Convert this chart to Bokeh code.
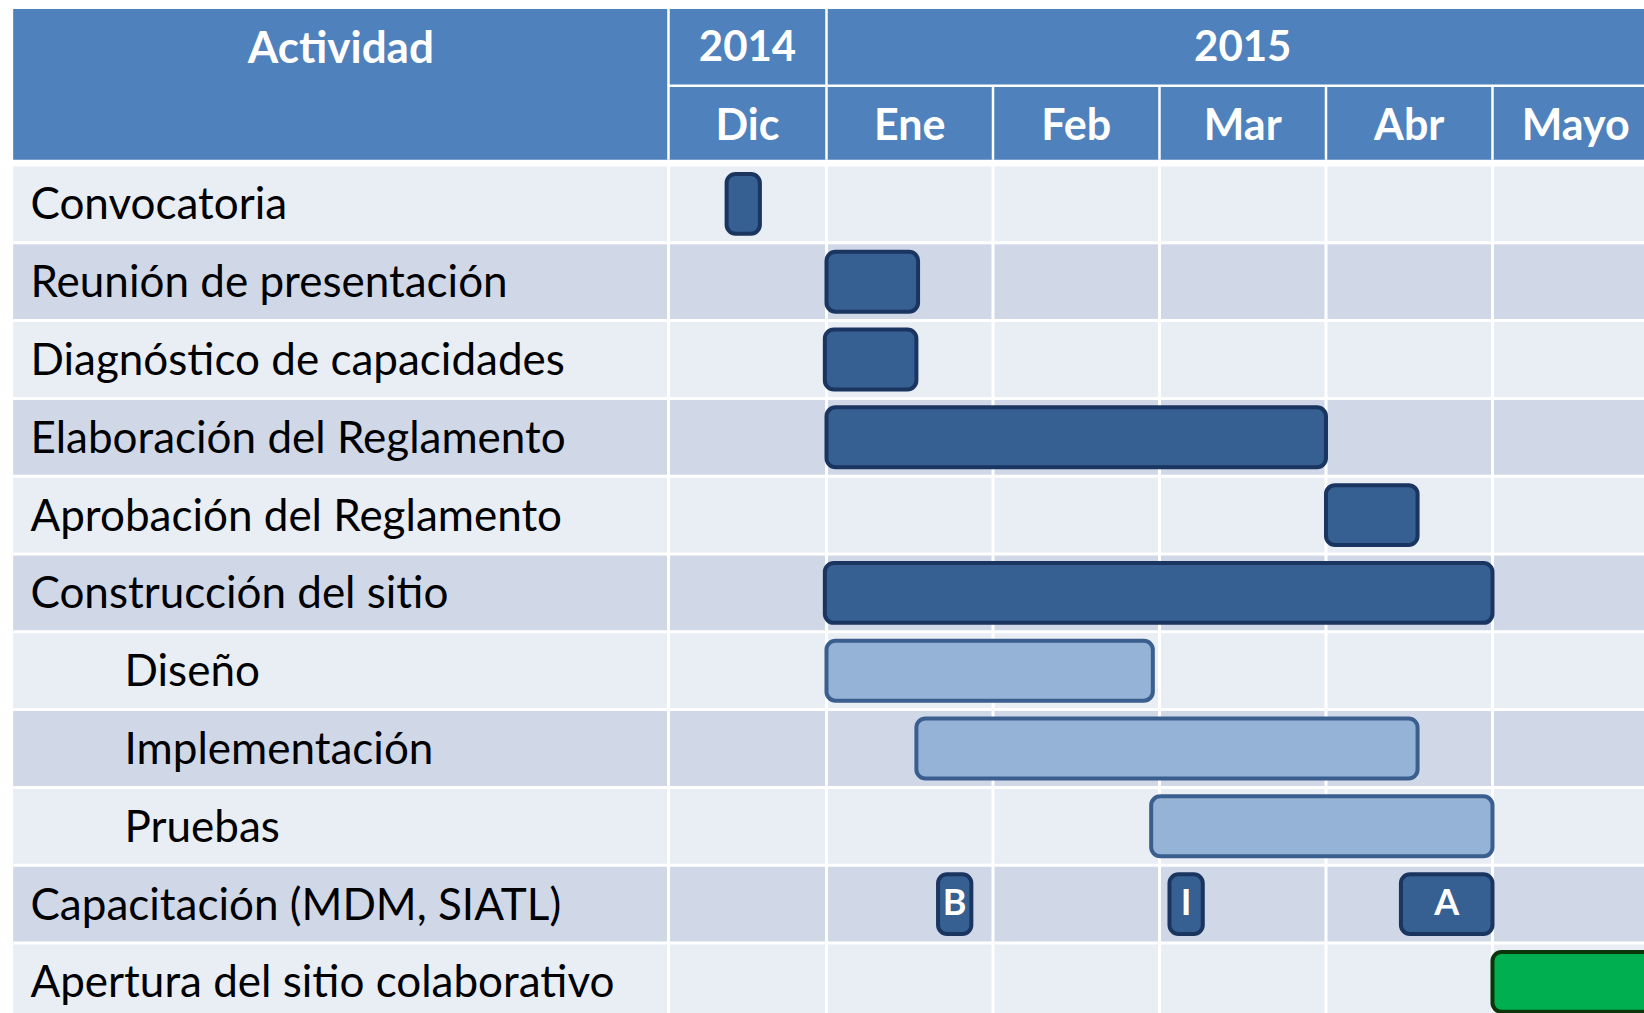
from bokeh.plotting import figure
from bokeh.models import Range1d, ColumnDataSource
from bokeh.core.properties import value
from bokeh.embed import file_html
from bokeh.resources import INLINE

# ---------------- data ----------------
activities = ["Convocatoria", "Reunión de presentación", "Diagnóstico de capacidades",
              "Elaboración del Reglamento", "Aprobación del Reglamento", "Construcción del sitio",
              "Diseño", "Implementación", "Pruebas", "Capacitación (MDM, SIATL)",
              "Apertura del sitio colaborativo"]
indented = [False, False, False, False, False, False, True, True, True, False, False]
months = ["Dic", "Ene", "Feb", "Mar", "Abr", "Mayo"]
years = ["2014", "2015"]
year_first_month = [0, 1]
year_last_month = [0, 5]

# tasks: row index, start/end in month units (Dic = 0..1, Ene = 1..2, ...)
task_rows = [0, 1, 2, 3, 4, 5, 6, 7, 8, 10]
task_start = [0.40, 1.00, 0.99, 1.00, 4.00, 0.99, 1.00, 1.54, 2.95, 5.00]
task_end = [0.60, 1.55, 1.54, 4.00, 4.55, 5.00, 2.96, 4.55, 5.00, 6.00]
task_kind = ["main", "main", "main", "main", "main", "main", "sub", "sub", "sub", "launch"]

cap_row = 9
cap_labels = ["B", "I", "A"]
cap_start = [1.67, 3.06, 4.45]
cap_end = [1.87, 3.26, 5.00]

# ---------------- layout ----------------
W, H = 1644, 1013
X0, X1 = -3.961, 5.913
Y_TOP, Y_BOT = -2.614, 10.406
TABLE_LEFT = -3.885
ACT_RIGHT = 0.051
RIGHT = 6.6
HDR_TOP, HDR_MID, HDR_BOT = -2.506, -1.519, -0.566
FONT = "Lato"

fill = {"main": "#365F92", "sub": "#95B3D7", "launch": "#00B050"}
edge = {"main": "#1A3560", "sub": "#3A5F8E", "launch": "#0B360B"}

p = figure(width=W, height=H, x_range=Range1d(X0, X1), y_range=Range1d(Y_BOT, Y_TOP),
           output_backend="svg", toolbar_location=None, min_border=0,
           min_border_left=0, min_border_right=0, min_border_top=0, min_border_bottom=0)
p.xaxis.visible = False
p.yaxis.visible = False
p.grid.visible = False
p.outline_line_color = None
p.background_fill_color = "white"
p.border_fill_color = "white"

# body rows
n = len(activities)
row_y = list(range(n))
row_col = ["#E9EDF4" if i % 2 == 0 else "#D0D8E8" for i in range(n)]
p.quad(left=[TABLE_LEFT] * n, right=[RIGHT] * n,
       top=[i - 0.5 for i in row_y], bottom=[i + 0.5 for i in row_y],
       fill_color=row_col, line_color=None)

col_edges = [ACT_RIGHT] + [float(i) for i in range(1, len(months) + 1)]
p.segment(x0=col_edges, x1=col_edges, y0=[-0.5] * len(col_edges), y1=[n + 1] * len(col_edges),
          line_color="white", line_width=3)
p.segment(x0=[TABLE_LEFT] * (n + 1), x1=[RIGHT] * (n + 1),
          y0=[i - 0.5 for i in range(n + 1)], y1=[i - 0.5 for i in range(n + 1)],
          line_color="white", line_width=3)

# header
p.quad(left=[TABLE_LEFT], right=[RIGHT], top=[HDR_TOP], bottom=[HDR_BOT],
       fill_color="#4F81BD", line_color=None)
p.segment(x0=[ACT_RIGHT, 1.0], x1=[ACT_RIGHT, 1.0], y0=[HDR_TOP, HDR_TOP], y1=[HDR_BOT, HDR_BOT],
          line_color="white", line_width=2.5)
p.segment(x0=[2.0, 3.0, 4.0, 5.0], x1=[2.0, 3.0, 4.0, 5.0], y0=[HDR_MID] * 4, y1=[HDR_BOT] * 4,
          line_color="white", line_width=2.5)
p.segment(x0=[ACT_RIGHT], x1=[RIGHT], y0=[HDR_MID], y1=[HDR_MID], line_color="white", line_width=2.5)

hdr_font = dict(text_font=value(FONT), text_font_style="bold", text_color="white",
                text_align="center", text_baseline="middle")
p.text(x=[(TABLE_LEFT + ACT_RIGHT) / 2], y=[-2.03], text=["Actividad"], text_font_size="44px", **hdr_font)
year_x = []
for a, b in zip(year_first_month, year_last_month):
    lo = ACT_RIGHT if a == 0 else float(a)
    year_x.append((lo + b + 1) / 2)
p.text(x=year_x, y=[-2.03] * len(years), text=years, text_font_size="42px", **hdr_font)
month_x = [((ACT_RIGHT if i == 0 else float(i)) + i + 1) / 2 for i in range(len(months))]
p.text(x=month_x, y=[-1.03] * len(months), text=months, text_font_size="43px", **hdr_font)

# row labels
lab_x = [-3.216 if ind else -3.781 for ind in indented]
p.text(x=lab_x, y=[r - 0.02 for r in row_y], text=activities, text_font=value(FONT),
       text_font_size="44px", text_color="black", text_align="left", text_baseline="middle")

# task bars
BH = 0.385
src = ColumnDataSource(dict(
    left=task_start, right=task_end,
    top=[r - BH for r in task_rows], bottom=[r + BH for r in task_rows],
    fill=[fill[k] for k in task_kind], edge=[edge[k] for k in task_kind]))
p.quad(left="left", right="right", top="top", bottom="bottom", source=src,
       fill_color="fill", line_color="edge", line_width=4, border_radius=9)

# capacitación milestones
p.quad(left=cap_start, right=cap_end, top=[cap_row - BH] * 3, bottom=[cap_row + BH] * 3,
       fill_color=fill["main"], line_color=edge["main"], line_width=4, border_radius=9)
p.text(x=[(a + b) / 2 for a, b in zip(cap_start, cap_end)], y=[cap_row - 0.04] * 3, text=cap_labels,
       text_font=value(FONT), text_font_style="bold", text_font_size="36px", text_color="white",
       text_align="center", text_baseline="middle")

open("out.html", "w").write(file_html(p, INLINE))
